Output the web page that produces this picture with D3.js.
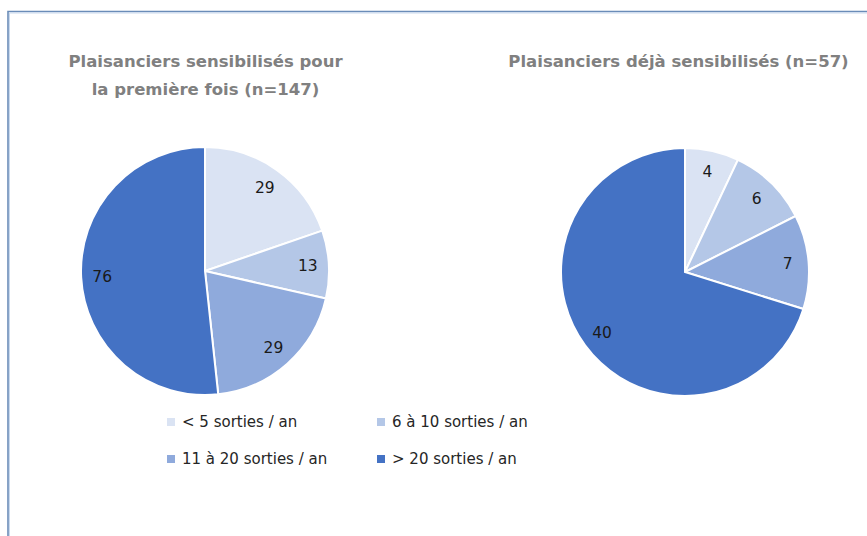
<!DOCTYPE html>
<html>
<head>
<meta charset="utf-8">
<script src="https://cdn.jsdelivr.net/npm/d3@7"></script>
<style>
  body { margin: 0; background: #fff; }
  svg { display: block; }
</style>
</head>
<body>
<div id="chart"></div>
<script>
// data
const categories = ["< 5 sorties / an", "6 à 10 sorties / an", "11 à 20 sorties / an", "> 20 sorties / an"];
const firstTime = [29, 13, 29, 76];   // n=147
const already = [4, 6, 7, 40];        // n=57
const titles = [
  ["Plaisanciers sensibilisés pour", "la première fois (n=147)"],
  ["Plaisanciers déjà sensibilisés (n=57)"]
];

const width = 867;
const height = 536;
const radius = 124;
const font = "'DejaVu Sans', sans-serif";

const colour = d3.scaleOrdinal(categories, ["#dae3f3", "#b4c7e7", "#8faadc", "#4472c4"]);

const svg = d3.create("svg")
  .attr("width", width)
  .attr("height", height);

svg.append("rect").attr("width", width).attr("height", height).attr("fill", "#fff");

// outer frame (only top and left edges show)
svg.append("path")
  .attr("d", "M8,536 V11.5 H867")
  .attr("fill", "none")
  .attr("stroke", "#6a8cb8")
  .attr("stroke-width", 1.6);
svg.append("path")
  .attr("d", "M9.5,536 V13 H867")
  .attr("fill", "none")
  .attr("stroke", "#c9d9ee")
  .attr("stroke-width", 1);

const pie = d3.pie().sort(null).value(d => d);
const arc = d3.arc().innerRadius(0).outerRadius(radius);
const labelArc = d3.arc().innerRadius(radius * 0.83).outerRadius(radius * 0.83);

const charts = [
  { values: firstTime, cx: 205, cy: 271, title: titles[0], tx: 205.5 },
  { values: already, cx: 685, cy: 272, title: titles[1], tx: 678.5 }
];

charts.forEach(c => {
  const g = svg.append("g").attr("transform", `translate(${c.cx},${c.cy})`);
  const arcs = pie(c.values);

  g.selectAll("path")
    .data(arcs)
    .join("path")
    .attr("d", arc)
    .attr("fill", (d, i) => colour(categories[i]))
    .attr("stroke", "#fff")
    .attr("stroke-width", 2);

  g.selectAll("text")
    .data(arcs)
    .join("text")
    .attr("transform", d => `translate(${labelArc.centroid(d)})`)
    .attr("text-anchor", "middle")
    .attr("dy", "0.35em")
    .attr("font-family", font)
    .attr("font-size", 15.5)
    .attr("fill", "#1a1a1a")
    .text(d => d.data);

  const t = svg.append("text")
    .attr("x", c.tx)
    .attr("y", 67)
    .attr("text-anchor", "middle")
    .attr("font-family", font)
    .attr("font-weight", "bold")
    .attr("font-size", 16.5)
    .attr("fill", "#808080");
  t.selectAll("tspan")
    .data(c.title)
    .join("tspan")
    .attr("x", c.tx)
    .attr("dy", (d, i) => i === 0 ? 0 : 28)
    .text(d => d);
});

// legend, two columns by two rows
const legendX = d3.scalePoint().domain([0, 1]).range([167, 377]);
const legendY = d3.scalePoint().domain([0, 1]).range([422, 459]);

const legend = svg.append("g")
  .selectAll("g")
  .data(categories)
  .join("g")
  .attr("transform", (d, i) => `translate(${legendX(i % 2)},${legendY(Math.floor(i / 2))})`);

legend.append("rect")
  .attr("x", 0)
  .attr("y", -4)
  .attr("width", 8)
  .attr("height", 8)
  .attr("fill", d => colour(d));

legend.append("text")
  .attr("x", 15)
  .attr("dy", "0.35em")
  .attr("font-family", font)
  .attr("font-size", 15)
  .attr("fill", "#262626")
  .text(d => d);

d3.select("#chart").node().append(svg.node());
</script>
</body>
</html>
